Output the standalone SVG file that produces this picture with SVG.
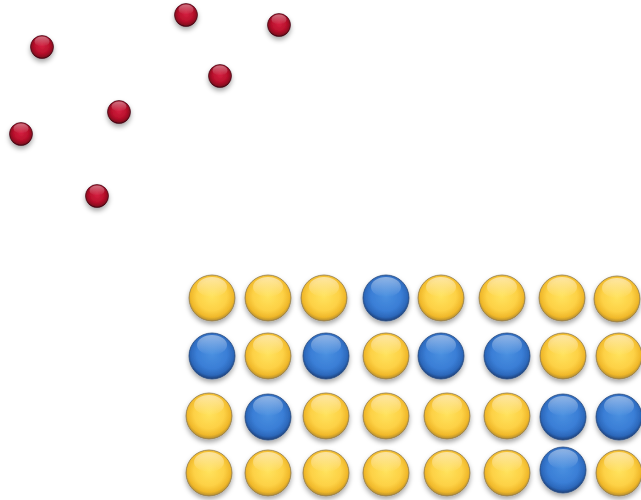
<svg xmlns="http://www.w3.org/2000/svg" xmlns:xlink="http://www.w3.org/1999/xlink" width="641" height="500" viewBox="0 0 641 500">
<defs>
<filter id="sh" x="-50%" y="-50%" width="200%" height="200%">
<feDropShadow dx="0" dy="3" stdDeviation="2.5" flood-color="#000" flood-opacity="0.35"/>
</filter>
<radialGradient id="gy" cx="50%" cy="45%" r="55%">
<stop offset="0" stop-color="#ffe35e"/>
<stop offset="0.6" stop-color="#fdd145"/>
<stop offset="0.85" stop-color="#f0b82a"/>
<stop offset="1" stop-color="#b08a30"/>
</radialGradient>
<radialGradient id="gb" cx="50%" cy="45%" r="55%">
<stop offset="0" stop-color="#4a90e0"/>
<stop offset="0.6" stop-color="#3a7ed6"/>
<stop offset="0.85" stop-color="#2c68bb"/>
<stop offset="1" stop-color="#1d3f78"/>
</radialGradient>
<radialGradient id="gr" cx="50%" cy="45%" r="55%">
<stop offset="0" stop-color="#d42040"/>
<stop offset="0.6" stop-color="#b8102c"/>
<stop offset="0.85" stop-color="#8e0a20"/>
<stop offset="1" stop-color="#4a0612"/>
</radialGradient>
<linearGradient id="hl" x1="0" y1="0" x2="0" y2="1">
<stop offset="0" stop-color="#fff" stop-opacity="0.75"/>
<stop offset="1" stop-color="#fff" stop-opacity="0"/>
</linearGradient>
<g id="Y" filter="url(#sh)">
<circle r="23" fill="url(#gy)" stroke="#8f7a4a" stroke-width="0.8"/>
<ellipse cx="0" cy="-11" rx="15" ry="10" fill="url(#hl)" opacity="0.7"/>
</g>
<g id="B" filter="url(#sh)">
<circle r="23" fill="url(#gb)" stroke="#264a80" stroke-width="0.8"/>
<ellipse cx="0" cy="-11" rx="15" ry="10" fill="url(#hl)" opacity="0.6"/>
</g>
<g id="R" filter="url(#sh)">
<circle r="11.5" fill="url(#gr)" stroke="#3a0510" stroke-width="0.6"/>
<ellipse cx="0" cy="-5.5" rx="7.5" ry="5" fill="url(#hl)" opacity="0.55"/>
</g>
</defs>
<rect width="641" height="500" fill="#fff"/>
<g id="red">
<use href="#R" x="186" y="15"/>
<use href="#R" x="279" y="25"/>
<use href="#R" x="42" y="47"/>
<use href="#R" x="220" y="76"/>
<use href="#R" x="119" y="112"/>
<use href="#R" x="21" y="134"/>
<use href="#R" x="97" y="196"/>
</g>
<g id="row1">
<use href="#Y" x="212" y="298"/>
<use href="#Y" x="268" y="298"/>
<use href="#Y" x="324" y="298"/>
<use href="#B" x="386" y="298"/>
<use href="#Y" x="441" y="298"/>
<use href="#Y" x="502" y="298"/>
<use href="#Y" x="562" y="298"/>
<use href="#Y" x="617" y="299"/>
</g>
<g id="row2">
<use href="#B" x="212" y="356"/>
<use href="#Y" x="268" y="356"/>
<use href="#B" x="326" y="356"/>
<use href="#Y" x="386" y="356"/>
<use href="#B" x="441" y="356"/>
<use href="#B" x="507" y="356"/>
<use href="#Y" x="563" y="356"/>
<use href="#Y" x="619" y="356"/>
</g>
<g id="row3">
<use href="#Y" x="209" y="416"/>
<use href="#B" x="268" y="417"/>
<use href="#Y" x="326" y="416"/>
<use href="#Y" x="386" y="416"/>
<use href="#Y" x="447" y="416"/>
<use href="#Y" x="507" y="416"/>
<use href="#B" x="563" y="417"/>
<use href="#B" x="619" y="417"/>
</g>
<g id="row4">
<use href="#Y" x="209" y="473"/>
<use href="#Y" x="268" y="473"/>
<use href="#Y" x="326" y="473"/>
<use href="#Y" x="386" y="473"/>
<use href="#Y" x="447" y="473"/>
<use href="#Y" x="507" y="473"/>
<use href="#B" x="563" y="470"/>
<use href="#Y" x="619" y="473"/>
</g>
</svg>
